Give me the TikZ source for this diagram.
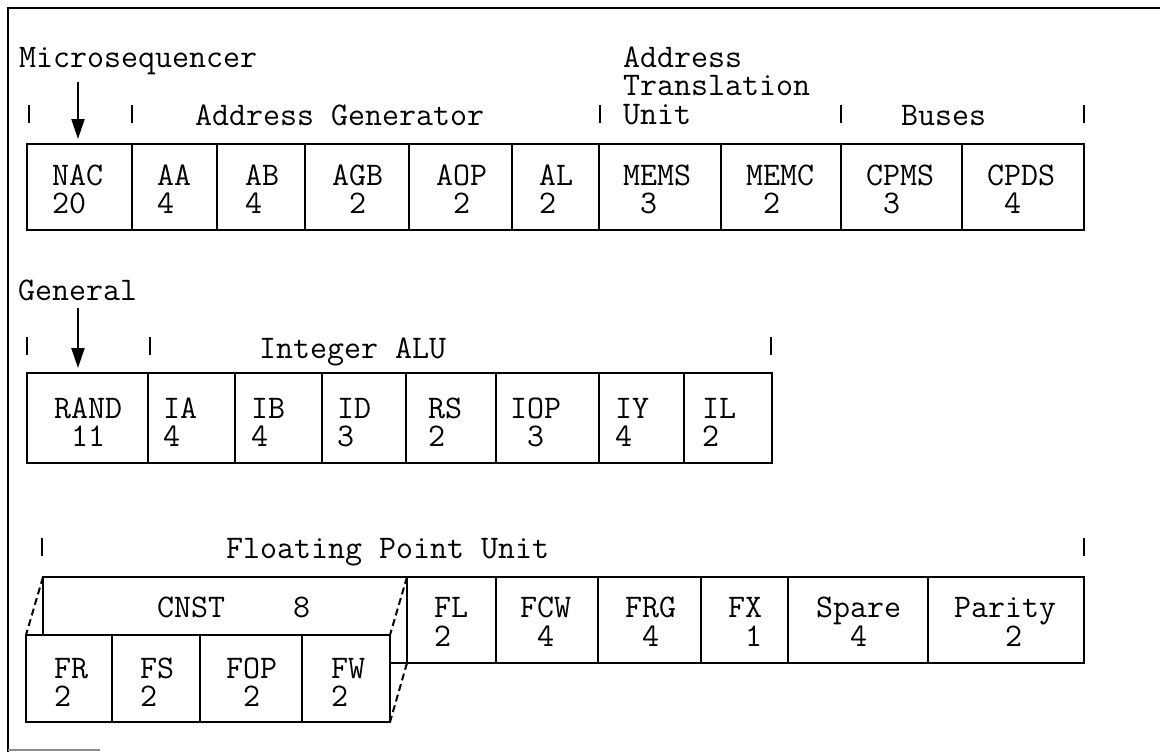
\documentclass[tikz,border=0pt]{standalone}
\usetikzlibrary{arrows.meta}
\newcommand\onech{\hphantom{0}}
\newcommand\bx[5]{\node[boxst, minimum width={(#3-#2)*1pt}, minimum height={(#5-#4)*1pt}] (#1) at (#2,#4) {};}
\newcommand\tx[6]{\node[txt] (#1) at (#2,#3) {\fontsize{33}{#4}\selectfont\begin{tabular}[t]{@{}l@{}}#5\\#6\end{tabular}};}
\begin{document}
\begin{tikzpicture}[x=1pt,y=-1pt,
 boxst/.style={draw, line width=2.6pt, inner sep=0pt, outer sep=0pt, anchor=north west},
 boxline/.style={line width=2.6pt},
 txt/.style={font=\ttfamily\fontsize{33}{36}\selectfont, inner sep=0pt, anchor=base west},
 tickst/.style={line width=2.2pt},
 arr/.style={line width=2.2pt, -{Triangle[length=20pt,width=13pt]}},
 dashline/.style={line width=2pt, dash pattern=on 7pt off 4pt},
 framest/.style={line width=2pt}]
\useasboundingbox (0,0) rectangle (1160,752);
% frame
\draw[framest] (8,752) -- (8,8) -- (1160,8);
\draw[line width=2pt, black!45] (8,750) -- (100,750);

% ---------- row 1 ----------
\node[txt] (lmicro) at (19,67) {Microsequencer};
\node[txt] (latu) at (623,67) {\fontsize{33}{28.5}\selectfont\begin{tabular}[t]{@{}l@{}}Address\\Translation\\Unit\end{tabular}};
\node[txt] (lag) at (195,125) {Address Generator};
\node[txt] (lbus) at (901,125) {Buses};
\foreach \x in {29,132,600,841,1084} \draw[tickst] (\x,105) -- (\x,123);

\bx{nac}{27}{132}{144}{230}
\bx{aa}{132}{217}{144}{230}
\bx{ab}{217}{305}{144}{230}
\bx{agb}{305}{409}{144}{230}
\bx{aop}{409}{512}{144}{230}
\bx{al}{512}{599}{144}{230}
\bx{mems}{599}{721}{144}{230}
\bx{memc}{721}{841}{144}{230}
\bx{cpms}{841}{962}{144}{230}
\bx{cpds}{962}{1084}{144}{230}

\tx{tnac}{52}{185}{27}{NAC}{20}
\tx{taa}{157}{185}{27}{AA}{4}
\tx{tab}{245}{185}{27}{AB}{4}
\tx{tagb}{332}{185}{27}{AGB}{\onech 2}
\tx{taop}{436}{185}{27}{AOP}{\onech 2}
\tx{tal}{539}{185}{27}{AL}{2}
\tx{tmems}{623}{185}{27}{MEMS}{\onech 3}
\tx{tmemc}{746}{185}{27}{MEMC}{\onech 2}
\tx{tcpms}{866}{185}{27}{CPMS}{\onech 3}
\tx{tcpds}{987}{185}{27}{CPDS}{\onech 4}

\coordinate (msa) at (78,82);
\draw[arr, shorten >=5pt] (msa) -- (msa |- nac.north);

% ---------- row 2 ----------
\node[txt] (lgen) at (18,300) {General};
\node[txt] (lialu) at (259,358) {Integer ALU};
\foreach \x in {27,150,771} \draw[tickst] (\x,337) -- (\x,355);

\bx{rand}{27}{148}{373}{463}
\bx{ia}{148}{235}{373}{463}
\bx{ib}{235}{322}{373}{463}
\bx{id}{322}{406}{373}{463}
\bx{rs}{406}{496}{373}{463}
\bx{iop}{496}{599}{373}{463}
\bx{iy}{599}{684}{373}{463}
\bx{il}{684}{772}{373}{463}

\tx{trand}{54}{418}{26}{RAND}{\onech 11}
\tx{tia}{163}{418}{26}{IA}{4}
\tx{tib}{251}{418}{26}{IB}{4}
\tx{tid}{337}{418}{26}{ID}{3}
\tx{trs}{428}{418}{26}{RS}{2}
\tx{tiop}{510}{418}{26}{IOP}{\onech 3}
\tx{tiy}{615}{418}{26}{IY}{4}
\tx{til}{702}{418}{26}{IL}{2}

\coordinate (gna) at (78,308);
\draw[arr, shorten >=5pt] (gna) -- (gna |- rand.north);

% ---------- row 3 ----------
\node[txt] (lfpu) at (226,558) {Floating Point Unit};
\foreach \x in {42,1084} \draw[tickst] (\x,538) -- (\x,556);

\bx{fl}{407}{496}{577}{663}
\bx{fcw}{496}{598}{577}{663}
\bx{frg}{598}{701}{577}{663}
\bx{fx}{701}{788}{577}{663}
\bx{spare}{788}{928}{577}{663}
\bx{parity}{928}{1084}{577}{663}

\bx{fr}{26}{112}{635}{722}
\bx{fs}{112}{200}{635}{722}
\bx{fop}{200}{302}{635}{722}
\bx{fw}{302}{390}{635}{722}

\coordinate (cnstnw) at (43,577);
\draw[boxline] (cnstnw |- fr.north) -- (cnstnw) -- (fl.north west);
\draw[boxline] (fw.south east |- fl.south) -- (fl.south west);
\node[txt] (cnst) at (157,617) {CNST\onech\onech\onech\onech 8};

\draw[dashline] (cnstnw) -- (fr.north west);
\draw[dashline] (fl.north west) -- (fw.north east);
\draw[dashline] (fl.south west) -- (fw.south east);

\tx{tfl}{434}{617}{29}{FL}{2}
\tx{tfcw}{520}{617}{29}{FCW}{\onech 4}
\tx{tfrg}{625}{617}{29}{FRG}{\onech 4}
\tx{tfx}{728}{617}{29}{FX}{\onech 1}
\tx{tspare}{816}{617}{29}{Spare}{\onech\onech 4}
\tx{tparity}{954}{617}{29}{Parity}{\onech\onech\onech 2}

\tx{tfr}{54}{678}{25}{FR}{2}
\tx{tfs}{140}{678}{25}{FS}{2}
\tx{tfop}{226}{678}{25}{FOP}{\onech 2}
\tx{tfw}{331}{678}{25}{FW}{2}
\end{tikzpicture}
\end{document}
